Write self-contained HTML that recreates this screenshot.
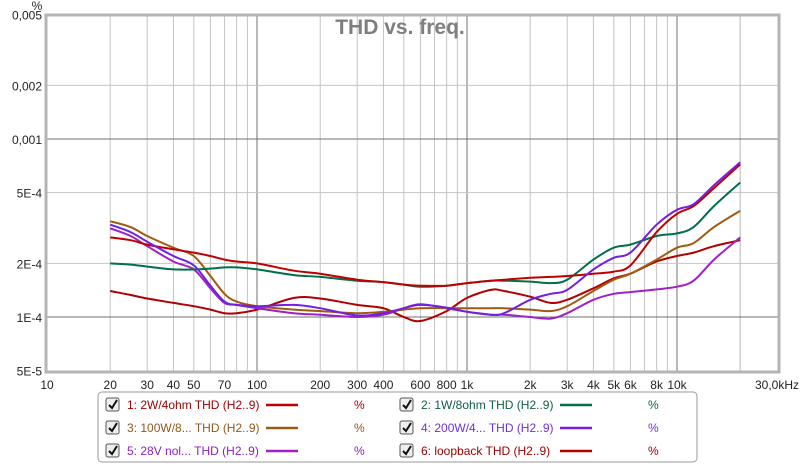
<!DOCTYPE html>
<html><head><meta charset="utf-8">
<style>
body{margin:0;background:#fff;width:800px;height:465px;overflow:hidden;font-family:"Liberation Sans",Arial,sans-serif}
svg text{font-family:"Liberation Sans",Arial,sans-serif}
</style></head>
<body>
<svg id="chart" width="800" height="465" viewBox="0 0 800 465" xmlns="http://www.w3.org/2000/svg">
<rect x="0" y="0" width="800" height="465" fill="#fff"/>
<g id="grid"></g>
<g id="series"></g>
<rect x="46" y="15" width="733" height="357" fill="none" stroke="#b4b4b4" stroke-width="3"/>
<g id="ylabels"></g>
<g id="xlabels"></g>
<text x="37" y="10" font-size="12" fill="#222" text-anchor="middle">%</text>
<text x="400" y="34" font-size="21" font-weight="bold" fill="#7f7f7f" text-anchor="middle">THD vs. freq.</text>
<g>
<rect x="98" y="392" width="599" height="70" rx="4" fill="#fff" stroke="#999"/>
<g id="legend-items"></g>
</g>
</svg>
<script>
const freqs=[20,25,30,40,50,60,70,80,100,150,200,300,400,500,600,800,1000,1300,1500,2000,2500,3000,4000,5000,6000,8000,10000,12000,15000,20000];
const s1=[2.8,2.7,2.55,2.4,2.3,2.2,2.1,2.05,2.0,1.82,1.75,1.62,1.57,1.52,1.5,1.5,1.55,1.6,1.62,1.66,1.68,1.7,1.75,1.8,1.95,3.0,3.8,4.2,5.3,7.2];
const s2=[2.0,1.97,1.92,1.85,1.85,1.87,1.9,1.9,1.85,1.72,1.68,1.6,1.57,1.52,1.48,1.5,1.55,1.6,1.6,1.58,1.55,1.62,2.1,2.45,2.55,2.85,2.95,3.2,4.2,5.7];
const s3=[3.45,3.2,2.85,2.45,2.2,1.7,1.35,1.22,1.15,1.1,1.08,1.05,1.07,1.1,1.12,1.12,1.12,1.12,1.12,1.1,1.08,1.15,1.4,1.62,1.75,2.1,2.45,2.6,3.2,3.95];
const s4=[3.3,3.0,2.65,2.2,1.95,1.5,1.22,1.17,1.15,1.17,1.12,1.02,1.05,1.12,1.17,1.13,1.07,1.03,1.05,1.25,1.35,1.42,1.85,2.15,2.3,3.3,4.0,4.3,5.5,7.4];
const s5=[3.15,2.85,2.5,2.05,1.85,1.45,1.2,1.17,1.12,1.05,1.03,1.0,1.03,1.12,1.18,1.12,1.07,1.03,1.03,1.0,0.98,1.05,1.25,1.35,1.38,1.43,1.48,1.6,2.1,2.8];
const s6=[1.4,1.33,1.27,1.2,1.15,1.1,1.05,1.05,1.1,1.28,1.27,1.17,1.12,1.0,0.95,1.08,1.28,1.42,1.4,1.3,1.2,1.25,1.45,1.65,1.75,2.05,2.2,2.3,2.5,2.7];
const xTickVals=[10,20,30,40,50,70,100,200,300,400,600,800,1000,2000,3000,4000,5000,6000,8000,10000,30000];
const xTickLabels=["10","20","30","40","50","70","100","200","300","400","600","800","1k","2k","3k","4k","5k","6k","8k","10k","30,0kHz"];
const yTickVals=[0.005,0.002,0.001,0.0005,0.0002,0.0001,0.00005];
const yTickLabels=["0,005","0,002","0,001","5E-4","2E-4","1E-4","5E-5"];
const names=["1: 2W/4ohm THD (H2..9)","2: 1W/8ohm THD (H2..9)","3: 100W/8... THD (H2..9)","4: 200W/4... THD (H2..9)","5: 28V nol... THD (H2..9)","6: loopback THD (H2..9)"];
const colors=["#c00000","#00704a","#a05a10","#7020e0","#a020c8","#b00000"];
const textColors=["#a00000","#106040","#905820","#7030e0","#9020c0","#a00000"];

const NS="http://www.w3.org/2000/svg";
function X(f){return 47+210*Math.log10(f/10);}
function Y(p){return 317-178*Math.log10(p/0.0001);}
function mk(t,a,parent){const e=document.createElementNS(NS,t);for(const k in a)e.setAttribute(k,a[k]);parent.appendChild(e);return e;}
const grid=document.getElementById('grid');
// vertical grid
const vlines=[];
for(let d=10;d<=10000;d*=10){for(let m=1;m<=9;m++){const f=d*m;if(f>10&&f<=20000)vlines.push(f);}}
vlines.push(20000);
vlines.forEach(f=>{
  const major=[100,1000,10000].includes(f);
  const l=mk('line',{x1:X(f),x2:X(f),y1:15,y2:372,stroke:major?'#707070':'#c4c4c4','stroke-width':1},grid);
  
  
});
yTickVals.forEach(v=>{
  if(v===0.005||v===0.00005)return;
  const major=(v===0.001||v===0.0001);
  const l=mk('line',{x1:46,x2:779,y1:Y(v),y2:Y(v),stroke:major?'#707070':'#c4c4c4','stroke-width':1},grid);
  
  
});
const yl=document.getElementById('ylabels');
yTickVals.forEach((v,i)=>{
  const t=mk('text',{x:42,y:Y(v)+5,'font-size':12,fill:'#222','text-anchor':'end'},yl);
  t.textContent=yTickLabels[i];
  
  
});
const xl=document.getElementById('xlabels');
xTickVals.forEach((v,i)=>{
  const last=i===xTickVals.length-1;
  const t=mk('text',{x:last?777:X(v),y:389,'font-size':12,fill:'#222','text-anchor':'middle'},xl);
  t.textContent=xTickLabels[i];
  
  
});
function pathFor(vals){
  const pts=freqs.map((f,i)=>[X(f),Y(vals[i]*1e-4)]);
  let d='M'+pts[0][0].toFixed(1)+','+pts[0][1].toFixed(1);
  for(let i=0;i<pts.length-1;i++){
    const p0=pts[Math.max(0,i-1)],p1=pts[i],p2=pts[i+1],p3=pts[Math.min(pts.length-1,i+2)];
    const c1=[p1[0]+(p2[0]-p0[0])/6,p1[1]+(p2[1]-p0[1])/6];
    const c2=[p2[0]-(p3[0]-p1[0])/6,p2[1]-(p3[1]-p1[1])/6];
    d+=' C'+c1.map(n=>n.toFixed(1)).join(',')+' '+c2.map(n=>n.toFixed(1)).join(',')+' '+p2.map(n=>n.toFixed(1)).join(',');
  }
  return d;
}
const sg=document.getElementById('series');
const all=[s1,s2,s3,s4,s5,s6];
[5,4,2,1,0,3].forEach(i=>{
  const p=mk('path',{d:pathFor(all[i]),fill:'none',stroke:colors[i],'stroke-width':2},sg);
  
  
});
const li=document.getElementById('legend-items');
names.forEach((n,i)=>{
  const col=i%2,row=Math.floor(i/2);
  const bx=col?400:106,by=398+row*23;
  const g=mk('g',{},li);
  
  
  const cb=mk('rect',{x:bx,y:by,width:13,height:13,rx:2,fill:'#eee',stroke:'#555'},g);
  
  
  const ck=mk('path',{d:`M${bx+3},${by+7} L${bx+6},${by+10} L${bx+11},${by+2}`,fill:'none',stroke:'#111','stroke-width':2},g);
  
  
  const t=mk('text',{x:bx+21,y:by+11,'font-size':12,fill:textColors[i]},g);
  t.textContent=n;
  
  
  const sw=mk('line',{x1:bx+160,x2:bx+192,y1:by+7,y2:by+7,stroke:colors[i],'stroke-width':2.5},g);
  
  
  const u=mk('text',{x:bx+248,y:by+11,'font-size':12,fill:textColors[i]},g);
  u.textContent='%';
  
  
});
</script>
</body></html>
